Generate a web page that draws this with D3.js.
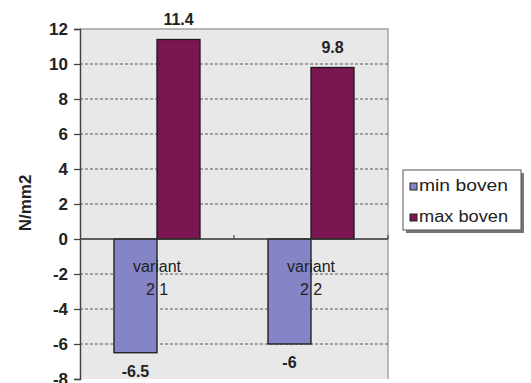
<!DOCTYPE html>
<html>
<head>
<meta charset="utf-8">
<script src="https://cdn.jsdelivr.net/npm/d3@7"></script>
<style>
  html, body { margin: 0; padding: 0; background: #fff; }
  svg { display: block; font-family: "Liberation Sans", Arial, sans-serif; }
</style>
</head>
<body>
<svg id="chart" width="531" height="383"></svg>
<script>
// Categories (two text lines each) and series
const categories = ["v21", "v22"];
const categoryLines = [["variant", "2 1"], ["variant", "2 2"]];
const seriesNames = ["min boven", "max boven"];
const minBoven = [-6.5, -6];
const maxBoven = [11.4, 9.8];
const yTicks = [-8, -6, -4, -2, 0, 2, 4, 6, 8, 10, 12];
const seriesColors = ["#8484c6", "#7c1652"];

const svg = d3.select("#chart");
const plotL = 80, plotR = 388, plotT = 29, plotB = 379;

const y = d3.scaleLinear().domain([-8, 12]).range([plotB, plotT]);
const x0 = d3.scaleBand().domain(categories).range([plotL, plotR]).padding(0);
const x1 = d3.scaleBand().domain(seriesNames).range([0, x0.bandwidth()])
  .paddingInner(0).paddingOuter(0.79);

// plot area
svg.append("rect")
  .attr("x", plotL).attr("y", plotT)
  .attr("width", plotR - plotL).attr("height", plotB - plotT)
  .attr("fill", "#e8e8e8");
svg.append("path")
  .attr("d", `M${plotL},${plotT}H${plotR}V${plotB}`)
  .attr("fill", "none").attr("stroke", "#a3a3a3").attr("stroke-width", 1.5);

// dashed gridlines
svg.append("g").selectAll("line")
  .data(yTicks.filter(t => t !== 0 && t !== 12 && t !== -8))
  .join("line")
  .attr("x1", plotL).attr("x2", plotR)
  .attr("y1", d => y(d)).attr("y2", d => y(d))
  .attr("stroke", "#5a5a5a").attr("stroke-width", 1)
  .attr("stroke-dasharray", "3,2");

// bars
const rows = categories.map((c, i) => ({ cat: c, vals: [minBoven[i], maxBoven[i]] }));
const groups = svg.append("g").selectAll("g")
  .data(rows).join("g")
  .attr("transform", d => `translate(${x0(d.cat)},0)`);
groups.selectAll("rect")
  .data(d => d.vals.map((v, j) => ({ name: seriesNames[j], v, j })))
  .join("rect")
  .attr("x", d => x1(d.name))
  .attr("width", x1.bandwidth())
  .attr("y", d => y(Math.max(0, d.v)))
  .attr("height", d => Math.abs(y(d.v) - y(0)))
  .attr("fill", d => seriesColors[d.j])
  .attr("stroke", "#1a1a1a").attr("stroke-width", 1.3);

// value labels
groups.selectAll("text.val")
  .data(d => d.vals.map((v, j) => ({ name: seriesNames[j], v })))
  .join("text")
  .attr("class", "val")
  .attr("x", d => x1(d.name) + x1.bandwidth() / 2)
  .attr("y", d => d.v >= 0 ? y(d.v) - 15 : y(d.v) + 24)
  .attr("text-anchor", "middle")
  .attr("font-size", 16).attr("font-weight", "bold")
  .attr("fill", "#222")
  .text(d => String(d.v));

// zero line with category-boundary ticks
svg.append("line")
  .attr("x1", plotL).attr("x2", plotR)
  .attr("y1", y(0)).attr("y2", y(0))
  .attr("stroke", "#333").attr("stroke-width", 1.3);
svg.append("g").selectAll("line")
  .data(categories)
  .join("line")
  .attr("x1", d => x0(d) + x0.bandwidth()).attr("x2", d => x0(d) + x0.bandwidth())
  .attr("y1", y(0)).attr("y2", y(0) - 4)
  .attr("stroke", "#333").attr("stroke-width", 1);

// category labels
const catG = svg.append("g").selectAll("text")
  .data(categories)
  .join("text")
  .attr("text-anchor", "middle")
  .attr("font-size", 16)
  .attr("fill", "#222");
catG.each(function (d, i) {
  const t = d3.select(this);
  const cx = x0(d) + x0.bandwidth() / 2;
  categoryLines[i].forEach((line, k) => {
    t.append("tspan").attr("x", cx).attr("y", 272 + k * 23).text(line);
  });
});

// y axis (plain hyphen for negative numbers)
const yAxis = d3.axisLeft(y).tickValues(yTicks).tickSize(6).tickPadding(6)
  .tickFormat(d => String(d));
const ya = svg.append("g").attr("transform", `translate(${plotL},0)`).call(yAxis);
ya.select(".domain").attr("stroke", "#444").attr("stroke-width", 1.5);
ya.selectAll(".tick line").attr("stroke", "#444").attr("stroke-width", 1.3);
ya.selectAll(".tick text")
  .attr("font-size", 17).attr("font-weight", "bold")
  .attr("font-family", "Liberation Sans, Arial, sans-serif")
  .attr("fill", "#222");

// axis title
svg.append("text")
  .attr("transform", "translate(31,203) rotate(-90)")
  .attr("text-anchor", "middle")
  .attr("font-size", 17).attr("font-weight", "bold")
  .attr("fill", "#222")
  .text("N/mm2");

// legend
const lg = svg.append("g").attr("transform", "translate(403,170)");
lg.append("rect").attr("x", 3).attr("y", 3).attr("width", 118).attr("height", 60).attr("fill", "#777");
lg.append("rect").attr("x", 0).attr("y", 0).attr("width", 118).attr("height", 60)
  .attr("fill", "#fff").attr("stroke", "#555").attr("stroke-width", 1);
const items = lg.selectAll("g.item").data(seriesNames).join("g")
  .attr("class", "item")
  .attr("transform", (d, i) => `translate(7,${13 + i * 31})`);
items.append("rect").attr("x", 0).attr("y", 0).attr("width", 7).attr("height", 7)
  .attr("fill", (d, i) => seriesColors[i]).attr("stroke", "#222").attr("stroke-width", 1);
items.append("text").attr("x", 9).attr("y", 8)
  .attr("font-size", 16).attr("fill", "#222")
  .attr("textLength", 89).attr("lengthAdjust", "spacingAndGlyphs")
  .text(d => d);
</script>
</body>
</html>
